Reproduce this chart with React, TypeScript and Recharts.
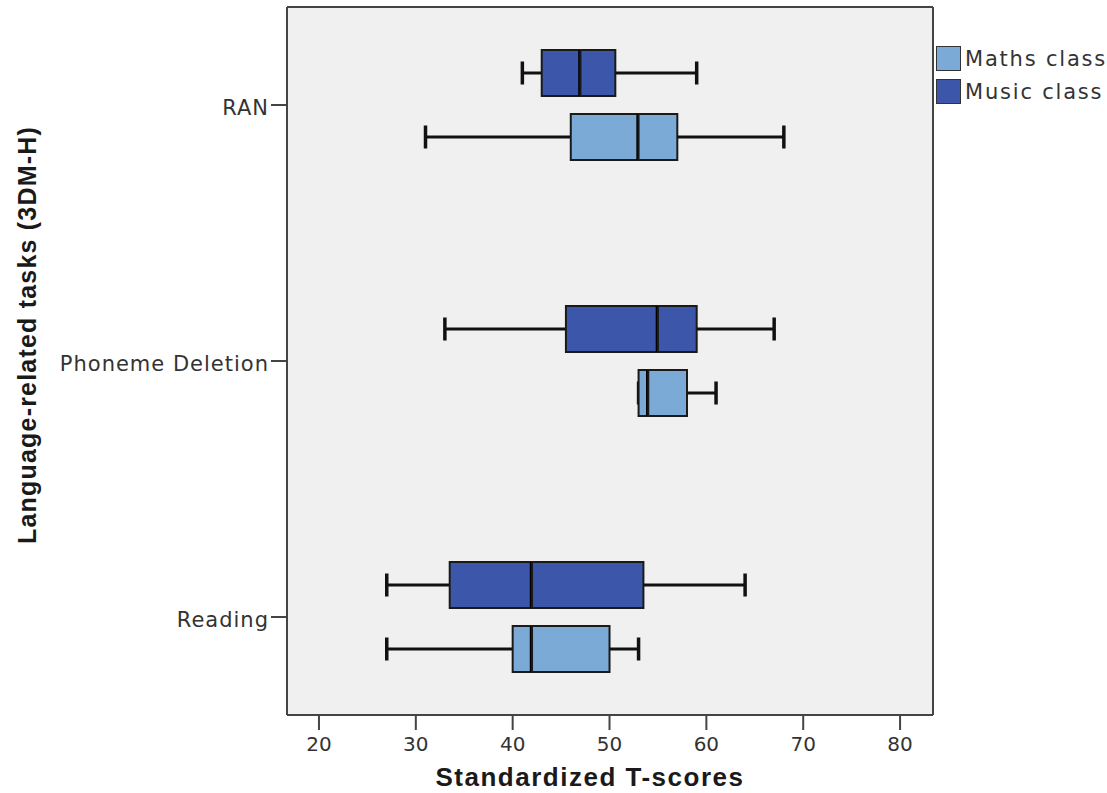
import React from 'react';
import { ComposedChart, Bar, XAxis, YAxis, CartesianGrid, Label } from 'recharts';

const categories = ['RAN', 'Phoneme Deletion', 'Reading'];

const musicLow = [41, 33, 27];
const musicQ1 = [43, 45.5, 33.5];
const musicMedian = [47, 55, 42];
const musicQ3 = [50.6, 59, 53.5];
const musicHigh = [59, 67, 64];

const mathsLow = [31, 53, 27];
const mathsQ1 = [46, 53, 40];
const mathsMedian = [53, 54, 42];
const mathsQ3 = [57, 58, 50];
const mathsHigh = [68, 61, 53];

const xTicks = [20, 30, 40, 50, 60, 70, 80];
const xDomain = [16.7, 83.4];

const MUSIC = '#3C57AA';
const MATHS = '#7BAAD7';

const legendItems = [
  { name: 'Maths class', color: MATHS },
  { name: 'Music class', color: MUSIC },
];

const data = categories.map((name, i) => ({
  name,
  mu_base: musicLow[i],
  mu_wl: musicQ1[i] - musicLow[i],
  mu_b1: musicMedian[i] - musicQ1[i],
  mu_b2: musicQ3[i] - musicMedian[i],
  mu_wh: musicHigh[i] - musicQ3[i],
  ma_base: mathsLow[i],
  ma_wl: mathsQ1[i] - mathsLow[i],
  ma_b1: mathsMedian[i] - mathsQ1[i],
  ma_b2: mathsQ3[i] - mathsMedian[i],
  ma_wh: mathsHigh[i] - mathsQ3[i],
}));

const REG = '"DejaVu Sans", sans-serif';
const BOLD = '"Liberation Sans", Arial, sans-serif';

const Invisible = () => <g />;

const WhiskerLow = (p: any) => {
  const { x, y, width, height } = p;
  const cy = y + height / 2;
  return (
    <g>
      <line x1={x} x2={x + width} y1={cy} y2={cy} stroke="#111" strokeWidth={3} />
      <line x1={x} x2={x} y1={cy - height / 4} y2={cy + height / 4} stroke="#111" strokeWidth={3.5} />
    </g>
  );
};

const WhiskerHigh = (p: any) => {
  const { x, y, width, height } = p;
  const cy = y + height / 2;
  return (
    <g>
      <line x1={x} x2={x + width} y1={cy} y2={cy} stroke="#111" strokeWidth={3} />
      <line x1={x + width} x2={x + width} y1={cy - height / 4} y2={cy + height / 4} stroke="#111" strokeWidth={3.5} />
    </g>
  );
};

const makeBox1 = (fill: string) => (p: any) => {
  const { x, y, width, height } = p;
  return (
    <g>
      <rect x={x} y={y} width={width} height={height} fill={fill} stroke="#1a1a1a" strokeWidth={2} />
      <line x1={x + width} x2={x + width} y1={y} y2={y + height} stroke="#000" strokeWidth={4.5} />
    </g>
  );
};

const makeBox2 = (fill: string) => (p: any) => {
  const { x, y, width, height } = p;
  return <rect x={x} y={y} width={width} height={height} fill={fill} stroke="#1a1a1a" strokeWidth={2} />;
};

const YTitle = (props: any) => {
  const vb = props.viewBox || { x: 0, y: 0, width: 0, height: 0 };
  const cx = vb.x + 27;
  const cy = vb.y + vb.height / 2 - 26;
  return (
    <text
      x={cx}
      y={cy}
      transform={`rotate(-90 ${cx} ${cy})`}
      textAnchor="middle"
      dominantBaseline="central"
      fontFamily={BOLD}
      fontWeight="bold"
      fontSize={25}
      letterSpacing={1.2}
      fill="#1a1a1a"
    >
      Language-related tasks (3DM-H)
    </text>
  );
};

export default function App() {
  const axisStroke = { stroke: '#444', strokeWidth: 2 };
  return (
    <div style={{ position: 'absolute', left: 0, top: 0, width: 1107, height: 793, background: '#fff' }}>
      <ComposedChart
        width={1107}
        height={793}
        data={data}
        layout="vertical"
        margin={{ top: 6, right: 173, bottom: 0, left: 0 }}
        barGap={18}
      >
        <CartesianGrid horizontal={false} vertical={false} fill="#F0F0F0" />
        <XAxis
          type="number"
          domain={xDomain}
          ticks={xTicks}
          allowDataOverflow
          height={78}
          tickSize={15}
          tickMargin={7}
          axisLine={axisStroke}
          tickLine={axisStroke}
          tick={{ fontFamily: REG, fontSize: 20, fill: '#333' }}
        >
          <Label
            value="Standardized T-scores"
            position="insideBottom"
            offset={7}
            dx={-20}
            style={{ fontFamily: BOLD, fontWeight: 'bold', fontSize: 26, letterSpacing: 1.5, fill: '#1a1a1a' }}
          />
        </XAxis>
        <XAxis
          xAxisId="top"
          orientation="top"
          type="number"
          domain={xDomain}
          ticks={xTicks}
          allowDataOverflow
          height={1}
          tick={false}
          tickLine={false}
          axisLine={axisStroke}
        />
        <YAxis
          type="category"
          dataKey="name"
          width={287}
          padding={{ top: -30, bottom: -30 }}
          tickSize={16}
          tickMargin={2}
          axisLine={axisStroke}
          tickLine={axisStroke}
          tick={{ fontFamily: REG, fontSize: 21, fill: '#333', letterSpacing: 1, dy: 3 }}
        >
          <Label content={YTitle} />
        </YAxis>
        <YAxis
          yAxisId="right"
          orientation="right"
          type="category"
          dataKey="name"
          width={1}
          tick={false}
          tickLine={false}
          axisLine={axisStroke}
        />
        <Bar dataKey="mu_base" stackId="music" barSize={46} shape={Invisible} isAnimationActive={false} />
        <Bar dataKey="mu_wl" stackId="music" barSize={46} shape={WhiskerLow} isAnimationActive={false} />
        <Bar dataKey="mu_b1" stackId="music" barSize={46} shape={makeBox1(MUSIC)} isAnimationActive={false} />
        <Bar dataKey="mu_b2" stackId="music" barSize={46} shape={makeBox2(MUSIC)} isAnimationActive={false} />
        <Bar dataKey="mu_wh" stackId="music" barSize={46} shape={WhiskerHigh} isAnimationActive={false} />
        <Bar dataKey="ma_base" stackId="maths" barSize={46} shape={Invisible} isAnimationActive={false} />
        <Bar dataKey="ma_wl" stackId="maths" barSize={46} shape={WhiskerLow} isAnimationActive={false} />
        <Bar dataKey="ma_b1" stackId="maths" barSize={46} shape={makeBox1(MATHS)} isAnimationActive={false} />
        <Bar dataKey="ma_b2" stackId="maths" barSize={46} shape={makeBox2(MATHS)} isAnimationActive={false} />
        <Bar dataKey="ma_wh" stackId="maths" barSize={46} shape={WhiskerHigh} isAnimationActive={false} />
        <Bar
          dataKey="mu_base"
          xAxisId="top"
          yAxisId="right"
          shape={Invisible}
          legendType="none"
          isAnimationActive={false}
        />
      </ComposedChart>
      <div style={{ position: 'absolute', left: 936, top: 42 }}>
        {legendItems.map((it) => (
          <div key={it.name} style={{ display: 'flex', alignItems: 'center', height: 33 }}>
            <div
              style={{
                width: 23,
                height: 23,
                background: it.color,
                border: '1.5px solid #333',
                marginRight: 4,
              }}
            />
            <span style={{ fontFamily: REG, fontSize: 21, color: '#333', letterSpacing: 1.8, whiteSpace: 'nowrap' }}>
              {it.name}
            </span>
          </div>
        ))}
      </div>
    </div>
  );
}
